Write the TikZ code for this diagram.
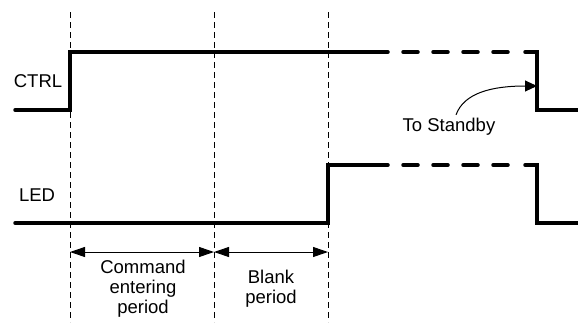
\documentclass[tikz,border=0pt]{standalone}
\usepackage{fontspec}
\setmainfont{Liberation Sans}
\usetikzlibrary{arrows.meta, positioning}

\begin{document}
\begin{tikzpicture}[x=1pt, y=-1pt, font=\fontsize{18.5}{20}\selectfont]
    \tikzstyle{signal} = [line width=3.5pt, line cap=round, line join=miter]
    \tikzstyle{future} = [signal, dash pattern=on 15pt off 15pt]
    \tikzstyle{guide} = [line width=0.8pt, dash pattern=on 6pt off 4pt]
    \tikzstyle{span} = [line width=1pt, {Triangle[length=15pt,width=10pt]}-{Triangle[length=15pt,width=10pt]}]
    \tikzstyle{pointer} = [line width=1pt, -{Triangle[length=12pt,width=11pt]}]
    \useasboundingbox (0,0) rectangle (578,322);

    % time marks
    \coordinate (t0) at (70,12);
    \coordinate (t1) at (214,12);
    \coordinate (t2) at (328,12);
    \draw[guide] (t0) -- (t0|-0,322);
    \draw[guide] (t1) -- (t1|-0,322);
    \draw[guide] (t2) -- (t2|-0,322);

    % CTRL
    \node (ctrl) at (38,81) {CTRL};
    \draw[signal] (15,110) -- (70,110) -- (70,52) -- (388,52);
    \draw[future] (403,52) -- (508,52);
    \draw[signal] (525,52) -- (537,52) -- (537,110) -- (578,110);

    % LED
    \node (led) at (37,195) {LED};
    \draw[signal] (15,223) -- (328,223) -- (328,165) -- (388,165);
    \draw[future] (403,165) -- (508,165);
    \draw[signal] (525,165) -- (537,165) -- (537,223) -- (578,223);

    % standby note
    \node (standby) at (449,127) {To Standby};
    \coordinate (fall) at (537,86);
    \draw[pointer] ([xshift=7pt]standby.north) .. controls +(8,-22) and +(-45,0) .. (fall);

    % periods
    \coordinate (a0) at (70,252);
    \coordinate (a1) at (214,252);
    \coordinate (a2) at (328,252);
    \draw[span] (a0) -- (a1);
    \draw[span] (a1) -- (a2);
    \node (cmd)[align=center] at (143,289) {Command\\entering\\period};
    \node (blank)[align=center] at (271,289) {Blank\\period};
\end{tikzpicture}
\end{document}
